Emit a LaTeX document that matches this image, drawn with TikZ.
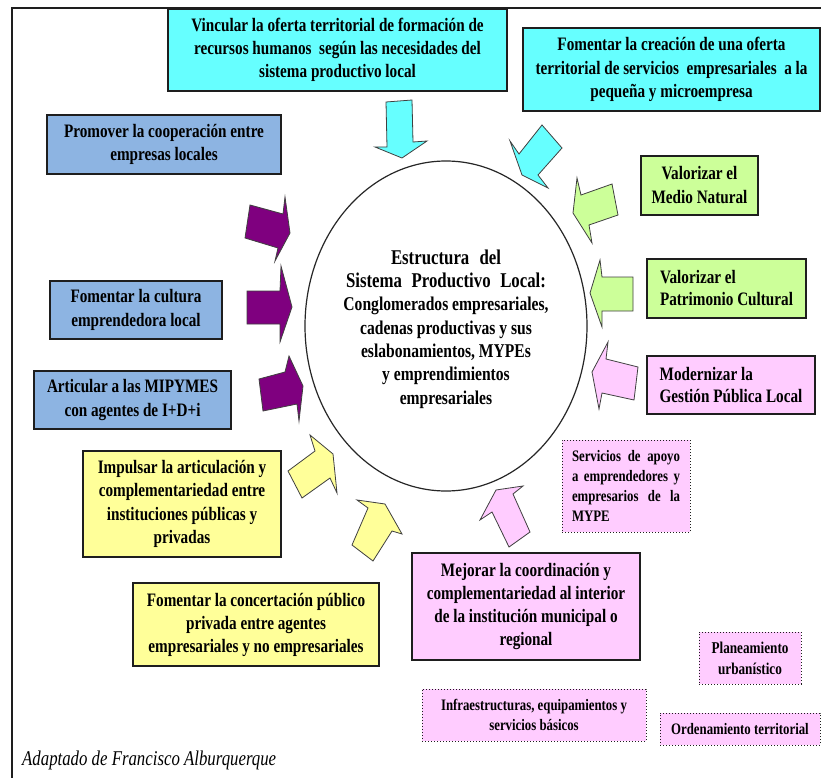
\documentclass[tikz,border=0pt]{standalone}
\usepackage{fontspec}
\setmainfont{Liberation Serif}[FakeStretch=0.8]
\usetikzlibrary{shapes.geometric}

\definecolor{cyanfill}{HTML}{66FFFF}
\definecolor{bluefill}{HTML}{8DB4E2}
\definecolor{yellowfill}{HTML}{FFFF99}
\definecolor{greenfill}{HTML}{CCFF99}
\definecolor{pinkfill}{HTML}{FFCCFF}
\definecolor{purplefill}{HTML}{7F007F}
\definecolor{edge}{HTML}{1E1E1E}

\tikzset{
  box/.style={draw=edge, line width=1.3pt, inner sep=0pt, align=center,
    font=\bfseries\fontsize{19}{23}\selectfont},
  dotbox/.style={draw=edge, dotted, line width=1pt, fill=pinkfill, inner sep=0pt,
    align=center, font=\bfseries\fontsize{16}{19.5}\selectfont},
  blockarrow/.style={draw=black!75, line width=0.8pt, line join=miter},
}

\begin{document}
\begin{tikzpicture}[x=1pt,y=-1pt]
\useasboundingbox (0,0) rectangle (821,778);
\fill[white] (0,0) rectangle (821,778);

% outer frame
\coordinate (frameBL) at (12,778);
\coordinate (frameTL) at (12,8);
\coordinate (frameTR) at (821,8);
\draw[line width=1.6pt, edge] (frameBL) -- (frameTL) -- (frameTR);

% central structure
\node[draw=black!85, line width=1.2pt, ellipse, minimum width=282pt, minimum height=330pt, inner sep=0pt] (core) at (446,326) {};
\node[font=\bfseries\fontsize{21}{23.3}\selectfont, align=center, inner sep=0pt] (coretext) at (446,329)
  {\fontsize{21}{24}\selectfont\makebox[110pt][s]{Estructura del}\\
   \fontsize{21}{24}\selectfont\makebox[200pt][s]{Sistema Productivo Local:}\\
   \fontsize{19.5}{23}\selectfont Conglomerados empresariales,\\
   \fontsize{19.5}{23}\selectfont cadenas productivas y sus\\
   \fontsize{19.5}{23}\selectfont eslabonamientos, MYPEs\\
   \fontsize{19.5}{23}\selectfont y emprendimientos\\
   \fontsize{19.5}{23}\selectfont empresariales};

% block arrows pointing to the centre
\draw[blockarrow, fill=cyanfill] (386,102) -- (412,100) -- (413,142) -- (427,141) -- (402,158) -- (375,147) -- (387,147) -- cycle;
\draw[blockarrow, fill=cyanfill] (542,125) -- (562,148) -- (538,175) -- (548,188) -- (522,175) -- (510,141) -- (519,154) -- cycle;
\draw[blockarrow, fill=greenfill] (577,178) -- (581,195) -- (612,184) -- (618,215) -- (589,225) -- (592,243) -- (573,213) -- cycle;
\draw[blockarrow, fill=greenfill] (600,260) -- (602,277) -- (633,277) -- (633,311) -- (602,311) -- (602,327) -- (590,293) -- cycle;
\draw[blockarrow, fill=pinkfill] (608,342) -- (606,359) -- (638,367) -- (634,400) -- (602,393) -- (599,409) -- (592,372) -- cycle;
\draw[blockarrow, fill=pinkfill] (496,490) -- (523,486) -- (513,494) -- (530,532) -- (509,547) -- (492,512) -- (480,520) -- cycle;
\draw[blockarrow, fill=yellowfill] (352,545) -- (368,508) -- (357,500) -- (385,504) -- (402,534) -- (392,531) -- (373,561) -- cycle;
\draw[blockarrow, fill=yellowfill] (288,471) -- (315,451) -- (310,435) -- (333,454) -- (337,493) -- (330,478) -- (302,498) -- cycle;
\draw[blockarrow, fill=purplefill] (259,379) -- (285,372) -- (289,356) -- (303,386) -- (299,421) -- (297,404) -- (263,411) -- cycle;
\draw[blockarrow, fill=purplefill] (247,291) -- (280,291) -- (281,266) -- (292,307) -- (280,342) -- (280,324) -- (247,324) -- cycle;
\draw[blockarrow, fill=purplefill] (250,205) -- (283,214) -- (285,197) -- (290,233) -- (275,261) -- (278,248) -- (245,238) -- cycle;

% strategy boxes
\node[box, fill=cyanfill, minimum width=339pt, minimum height=82pt] (vinc) at (337.5,50)
  {Vincular la oferta territorial de formación de\\ recursos humanos\ \ según las necesidades del\\ sistema productivo local};
\node[box, fill=cyanfill, minimum width=297pt, minimum height=83pt, font=\bfseries\fontsize{19}{23.5}\selectfont] (creac) at (671.5,69.5)
  {Fomentar la creación de una oferta\\ territorial de servicios\ \ empresariales\ \ a la\\ pequeña y microempresa};
\node[box, fill=bluefill, minimum width=234pt, minimum height=59pt] (prom) at (164,144.5)
  {Promover la cooperación entre\\ empresas locales};
\node[box, fill=bluefill, minimum width=172pt, minimum height=58pt, font=\bfseries\fontsize{19}{24}\selectfont] (cult) at (136,310)
  {Fomentar la cultura\\ emprendedora local};
\node[box, fill=bluefill, minimum width=197pt, minimum height=58pt, font=\bfseries\fontsize{19}{24}\selectfont] (artic) at (132.5,400)
  {Articular a las MIPYMES\\ con agentes de I+D+i};
\node[box, fill=yellowfill, minimum width=198pt, minimum height=106pt, font=\bfseries\fontsize{19}{23.3}\selectfont] (impul) at (182,504)
  {Impulsar la articulación y\\ complementariedad entre\\ instituciones públicas y\\ privadas};
\node[box, fill=yellowfill, minimum width=246pt, minimum height=83pt] (conc) at (256,624.5)
  {Fomentar la concertación público\\ privada entre agentes\\ empresariales y no empresariales};
\node[box, fill=greenfill, minimum width=117pt, minimum height=59pt, font=\bfseries\fontsize{19}{24}\selectfont] (medio) at (699.5,185.5)
  {Valorizar el\\ Medio Natural};
\node[box, fill=greenfill, minimum width=159pt, minimum height=59pt, align=left, font=\bfseries\fontsize{19}{22}\selectfont] (patri) at (726.5,288.5)
  {Valorizar el\\ Patrimonio Cultural};
\node[box, fill=pinkfill, minimum width=168pt, minimum height=58pt, align=left, font=\bfseries\fontsize{19}{22}\selectfont] (modern) at (731,385)
  {Modernizar la\\ Gestión Pública Local};
\node[box, fill=pinkfill, minimum width=228pt, minimum height=107pt, font=\bfseries\fontsize{19}{23.3}\selectfont] (mejor) at (526,606.5)
  {Mejorar la coordinación y\\ complementariedad al interior\\ de la institución municipal o\\ regional};

% supporting actions
\node[dotbox, minimum width=128pt, minimum height=92pt, align=left, font=\bfseries\fontsize{16}{20}\selectfont] (serv) at (626,486)
  {\makebox[108pt][s]{Servicios de apoyo}\\ \makebox[108pt][s]{a emprendedores y}\\ \makebox[108pt][s]{empresarios de la}\\ MYPE};
\node[dotbox, minimum width=102pt, minimum height=52pt, font=\bfseries\fontsize{16.5}{21}\selectfont] (plane) at (750,658)
  {Planeamiento\\ urbanístico};
\node[dotbox, minimum width=224pt, minimum height=52pt] (infra) at (534,715)
  {Infraestructuras, equipamientos y\\ servicios básicos};
\node[dotbox, minimum width=160pt, minimum height=32pt] (orden) at (740,729)
  {Ordenamiento territorial};

% source note
\node[anchor=west, inner sep=0pt, font=\itshape\fontsize{21}{24}\selectfont] (source) at (22,760)
  {Adaptado de Francisco Alburquerque};
\end{tikzpicture}
\end{document}
